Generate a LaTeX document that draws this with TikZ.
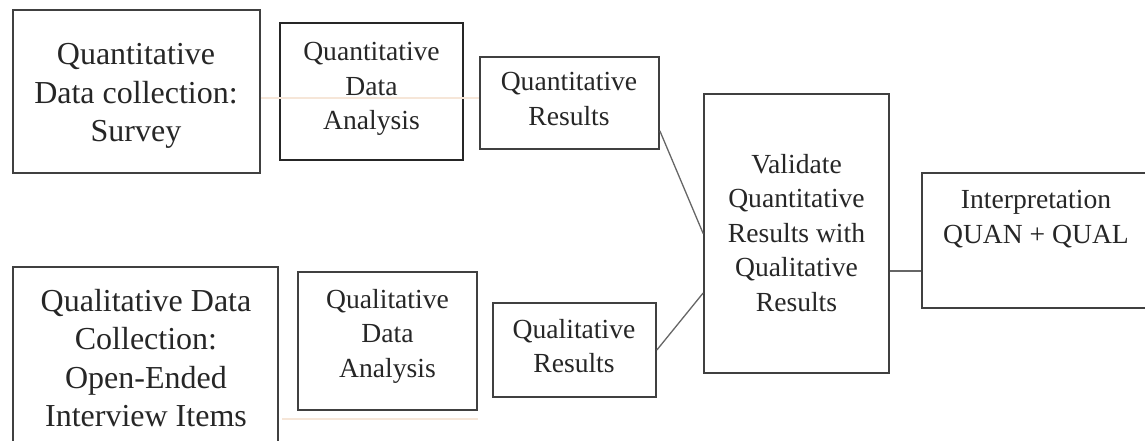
\documentclass[tikz,border=0pt]{standalone}
\usepackage{fontspec}
\setmainfont{Liberation Serif}
\begin{document}
\begin{tikzpicture}[x=1pt,y=-1pt,
  box/.style={draw=black!75, line width=1.7pt, rectangle, inner sep=0pt},
  bigtxt/.style={align=center, text=black!85, inner sep=0pt, font=\fontsize{32}{38.5}\selectfont},
  smalltxt/.style={align=center, text=black!85, inner sep=0pt, font=\fontsize{27.6}{34.5}\selectfont},
  conn/.style={draw=black!60, line width=1.3pt},
  faint/.style={draw={rgb,255:red,246;green,230;blue,216}, line width=1.5pt}]
\useasboundingbox (0,0) rectangle (1145,441);
\clip (0,0) rectangle (1145,441);
% boxes
\node[box, minimum width=247pt, minimum height=163pt] (qdc) at (136.5,91.5) {};
\node[box, minimum width=183pt, minimum height=137pt, line width=2pt, draw=black!85] (qda) at (371.5,91.5) {};
\node[box, minimum width=179pt, minimum height=92pt] (qres) at (569.5,103) {};
\node[box, minimum width=265pt, minimum height=182pt] (ldc) at (145.5,358) {};
\node[box, minimum width=179pt, minimum height=138pt] (lda) at (387.5,341) {};
\node[box, minimum width=163pt, minimum height=94pt] (lres) at (574.5,350) {};
\node[box, minimum width=185pt, minimum height=279pt] (val) at (796.5,233.5) {};
\node[box, minimum width=236pt, minimum height=135pt] (interp) at (1040,240.5) {};
% texts
\node[bigtxt] (tqdc) at (136,96) {Quantitative\\Data collection:\\Survey};
\node[smalltxt] (tqda) at (371.5,89) {Quantitative\\Data\\Analysis};
\node[smalltxt] (tqres) at (569,99) {Quantitative\\Results};
\node[bigtxt] (tldc) at (146,358) {Qualitative Data\\Collection:\\Open-Ended\\Interview Items};
\node[smalltxt] (tlda) at (387.5,336) {Qualitative\\Data\\Analysis};
\node[smalltxt] (tlres) at (574,346) {Qualitative\\Results};
\node[smalltxt] (tval) at (796.5,233) {Validate\\Quantitative\\Results with\\Qualitative\\Results};
\node[smalltxt] (tinterp) at (1036,219) {Interpretation\\QUAN + QUAL};
% connectors
\draw[conn] ([yshift=19pt]qres.south east) -- (val.west);
\draw[conn] (lres.east) -- ([yshift=-59.5pt]val.west);
\draw[conn] ([yshift=-37.5pt]val.east) coordinate (vo) -- (vo -| interp.west);
% faint lines
\draw[faint] ([yshift=-6.5pt]qdc.east) coordinate (fa) -- (fa -| qres.west);
\draw[faint] ([xshift=-15pt,yshift=-8pt]lda.south west) -- ([yshift=-8pt]lda.south east);
\end{tikzpicture}
\end{document}
